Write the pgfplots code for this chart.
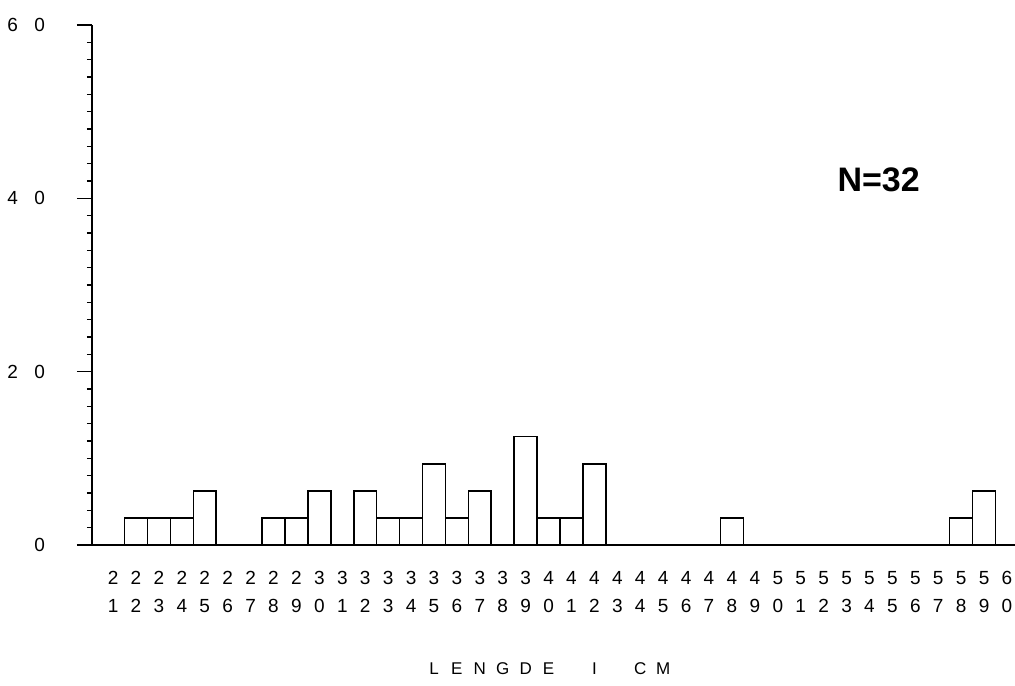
\documentclass[border=0pt]{standalone}
\usepackage{fontspec}
\setmainfont{Liberation Sans}
\usepackage{pgfplots}
\pgfplotsset{compat=1.18}
\newcommand{\dd}[2]{\makebox[13.5pt][l]{#1}#2}
\newcommand{\lb}[1]{\makebox[11.46pt][c]{#1}}
\begin{document}
\begin{tikzpicture}
\path[use as bounding box] (-46pt,-70pt) rectangle (461.5pt,272.5pt);
\begin{axis}[
  at={(0,0)}, anchor=south west,
  scale only axis, width=461.5pt, height=260pt,
  xmin=20.08, xmax=60.35, ymin=0, ymax=60,
  axis lines=left, axis line style={-, line width=0.7pt},
  xtick={21,...,60},
  xticklabels={{2\\1},{2\\2},{2\\3},{2\\4},{2\\5},{2\\6},{2\\7},{2\\8},{2\\9},{3\\0},
               {3\\1},{3\\2},{3\\3},{3\\4},{3\\5},{3\\6},{3\\7},{3\\8},{3\\9},{4\\0},
               {4\\1},{4\\2},{4\\3},{4\\4},{4\\5},{4\\6},{4\\7},{4\\8},{4\\9},{5\\0},
               {5\\1},{5\\2},{5\\3},{5\\4},{5\\5},{5\\6},{5\\7},{5\\8},{5\\9},{6\\0}},
  xticklabel style={align=center, font=\fontsize{9.5}{14}\selectfont, inner sep=1pt, yshift=-4.5pt},
  x tick style={draw=none},
  ytick={0,20,40,60},
  yticklabels={0,{\dd{2}{0}},{\dd{4}{0}},{\dd{6}{0}}},
  yticklabel style={font=\fontsize{9.5}{11}\selectfont, xshift=-12.5pt},
  minor y tick num=9,
  tick align=outside,
  major tick length=7.5pt, minor tick length=2.5pt,
  y tick style={line width=0.8pt, black},
  minor y tick style={line width=0.6pt},
  xlabel={\lb{L}\lb{E}\lb{N}\lb{G}\lb{D}\lb{E}\lb{}\lb{I}\lb{}\lb{C}\lb{M}},
  xlabel style={at={(axis cs:40,0)}, anchor=center, yshift=-62pt, font=\fontsize{8.5}{10}\selectfont, inner sep=0pt},
  clip=false,
]
\addplot[ybar, bar width=1, fill=white, draw=black, line width=0.8pt] coordinates {
  (22,3.125) (23,3.125) (24,3.125) (25,6.25)
  (28,3.125) (29,3.125) (30,6.25)
  (32,6.25) (33,3.125) (34,3.125) (35,9.375) (36,3.125) (37,6.25)
  (39,12.5) (40,3.125) (41,3.125) (42,9.375)
  (48,3.125)
  (58,3.125) (59,6.25)
};
\node[font=\bfseries\fontsize{17}{19}\selectfont, inner sep=0pt] at (axis cs:54.4,42.1) {N=32};
\end{axis}
\end{tikzpicture}
\end{document}
